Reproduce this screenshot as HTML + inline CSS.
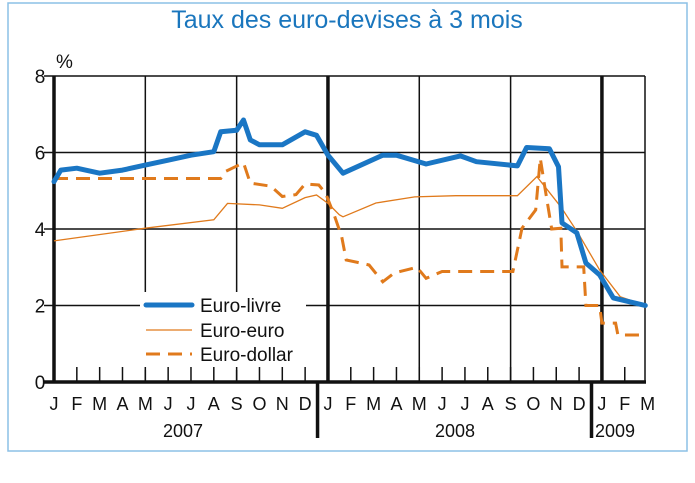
<!DOCTYPE html>
<html><head><meta charset="utf-8"><style>
html,body{margin:0;padding:0;background:#fff;}
svg{display:block;font-family:"Liberation Sans",sans-serif;}
</style></head><body>
<svg id="chart" width="695" height="483" viewBox="0 0 695 483" xmlns="http://www.w3.org/2000/svg">
<rect x="8" y="3" width="679" height="448" fill="#fff" stroke="#8cc0e6" stroke-width="1.5"/>
<text x="347" y="28" text-anchor="middle" font-size="25" fill="#1a76bd">Taux des euro-devises à 3 mois</text>
<text x="56" y="68" font-size="19" fill="#111">%</text>
<g id="grid"></g><g id="series"></g><g id="axes"></g><g id="legend"></g>
</svg>
<script>
const yTicks=[0,2,4,6,8];
const monthLabels=["J","F","M","A","M","J","J","A","S","O","N","D","J","F","M","A","M","J","J","A","S","O","N","D","J","F","M"];
const years=["2007","2008","2009"];
const livreM=[0,0.3,1,2,3,4,5,6,7,7.3,8,8.3,8.6,9,10,11,11.5,12,12.66,14.4,15,16.3,17.8,18.5,20.3,20.7,21.7,22.1,22.25,22.9,23.3,23.9,24.5,25.9];
const livreV=[5.24,5.54,5.59,5.46,5.54,5.67,5.8,5.93,6.02,6.54,6.58,6.85,6.33,6.2,6.2,6.54,6.45,5.93,5.46,5.93,5.93,5.7,5.91,5.76,5.65,6.13,6.1,5.63,4.16,3.9,3.11,2.8,2.2,2.0];
const euroM=[0,4,7,7.6,9,10,11,11.5,12,12.5,12.66,14.1,15.8,17.6,20.3,21.15,22.2,22.95,23.9,24.8,25.9];
const euroV=[3.69,4.02,4.24,4.67,4.63,4.54,4.82,4.89,4.67,4.37,4.32,4.68,4.84,4.87,4.87,5.37,4.58,3.9,2.93,2.23,2.0];
const dolM=[0,7.3,7.5,8.3,8.6,9.5,10,10.6,11,11.6,11.9,12.3,12.6,12.8,13.5,13.8,14.4,14.9,15.9,16.3,17,20.1,20.5,21.1,21.3,21.5,21.8,22.2,22.25,23.2,23.3,23.9,24.0,24.6,24.7,25.9];
const dolV=[5.32,5.32,5.5,5.73,5.2,5.12,4.85,4.9,5.18,5.15,4.93,4.32,3.8,3.19,3.1,3.06,2.62,2.85,3.0,2.71,2.89,2.89,4.02,4.5,5.85,5.1,4.0,4.02,3.01,3.01,2.0,2.0,1.54,1.54,1.23,1.23];
const X0=54,MW=22.83,Y0=382,YS=38.25,XR=645;
const xs=m=>X0+m*MW, ys=v=>Y0-v*YS;
const NS="http://www.w3.org/2000/svg";
function mk(tag,parent,attrs){const e=document.createElementNS(NS,tag);for(const k in attrs)e.setAttribute(k,attrs[k]);parent.appendChild(e);return e;}
const grid=document.getElementById('grid'),axes=document.getElementById('axes'),ser=document.getElementById('series'),leg=document.getElementById('legend');
yTicks.forEach(v=>{
 if(v>0){const l=mk('line',grid,{x1:44,x2:XR,y1:ys(v),y2:ys(v),stroke:'#111','stroke-width':1.5});
 
 }
 const t=mk('text',axes,{x:40,y:ys(v)+7,'text-anchor':'middle','font-size':19,fill:'#111'});t.textContent=v;
 
 
});
[4,8,16,20].forEach(m=>{const l=mk('line',grid,{x1:xs(m),x2:xs(m),y1:ys(8),y2:Y0,stroke:'#111','stroke-width':1.5});
 
 });
const rt=mk('line',grid,{x1:XR,x2:XR,y1:ys(8),y2:Y0,stroke:'#111','stroke-width':1.5});


[0,12,24].forEach(m=>{const l=mk('line',grid,{x1:xs(m),x2:xs(m),y1:ys(8),y2:Y0,stroke:'#111','stroke-width':3.5});
 
 });
// legend background
const lb=mk('rect',grid,{x:140,y:292,width:166,height:78,fill:'#fff'});


for(let m=1;m<26;m++){const l=mk('line',axes,{x1:xs(m),x2:xs(m),y1:Y0-15,y2:Y0,stroke:'#111','stroke-width':1.5});
 
 }
const xa=mk('line',axes,{x1:44,x2:XR+1,y1:Y0,y2:Y0,stroke:'#111','stroke-width':3.5});


monthLabels.forEach((s,i)=>{const t=mk('text',axes,{x:xs(i),y:410,'text-anchor':'middle','font-size':18,fill:'#111'});t.textContent=s;
 
 });
[[183,0],[455,1],[615,2]].forEach(([x,i])=>{const t=mk('text',axes,{x:x,y:437,'text-anchor':'middle','font-size':18,fill:'#111'});t.textContent=years[i];
 
 });
[11.5,23.5].forEach(m=>{const l=mk('line',axes,{x1:xs(m)+1,x2:xs(m)+1,y1:Y0,y2:438,stroke:'#111','stroke-width':3.5});
 
 });
function pts(M,V){return M.map((m,i)=>xs(m).toFixed(1)+','+ys(V[i]).toFixed(1)).join(' ');}
const pe=mk('polyline',ser,{points:pts(euroM,euroV),fill:'none',stroke:'#e07a1c','stroke-width':1.3});


const pd=mk('polyline',ser,{points:pts(dolM,dolV),fill:'none',stroke:'#e07a1c','stroke-width':3,'stroke-dasharray':'14,8'});


const pl=mk('polyline',ser,{points:pts(livreM,livreV),fill:'none',stroke:'#1a76c4','stroke-width':5,'stroke-linejoin':'round','stroke-linecap':'round'});


[['Euro-livre',{stroke:'#1a76c4','stroke-width':5,'stroke-linecap':'round'},305],
 ['Euro-euro',{stroke:'#e07a1c','stroke-width':1.3},330],
 ['Euro-dollar',{stroke:'#e07a1c','stroke-width':3,'stroke-dasharray':'14,8'},354]].forEach(([name,st,y])=>{
 const g=mk('g',leg,{});
 
 
 const a=Object.assign({x1:146,x2:192,y1:y,y2:y},st);mk('line',g,a);
 const t=mk('text',g,{x:200,y:y+7,'font-size':19,fill:'#111'});t.textContent=name;
});
</script>
</body></html>
